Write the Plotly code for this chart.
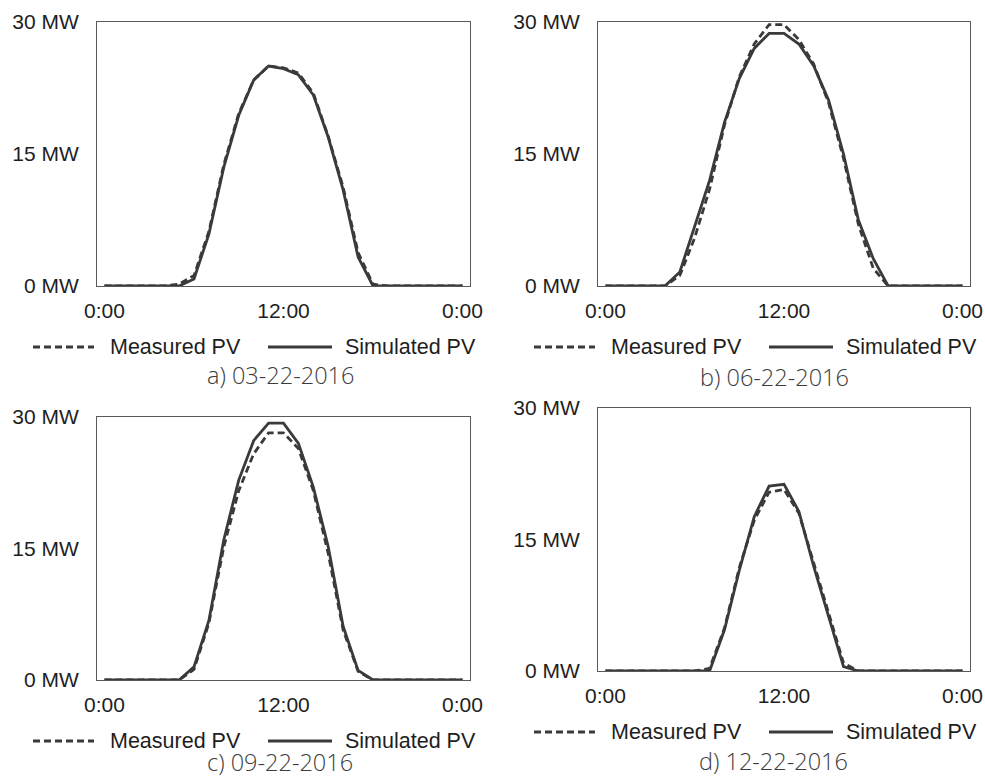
import plotly.graph_objects as go

W, H = 985, 779

hours = list(range(25))
x_tick_vals = [0, 12, 24]
x_tick_text = ["0:00", "12:00", "0:00"]
y_tick_vals = [0, 15, 30]
y_tick_text = ["0 MW", "15 MW", "30 MW"]

a_measured = [0, 0, 0, 0, 0, 0.2, 1.2, 6.2, 13.8, 19.6, 23.4, 25.0, 24.8, 24.2, 21.9, 17.0, 11.2, 3.8, 0.2, 0, 0, 0, 0, 0, 0]
a_simulated = [0, 0, 0, 0, 0, 0, 0.8, 5.9, 13.5, 19.4, 23.4, 25.0, 24.7, 24.0, 21.7, 16.9, 10.9, 3.3, 0, 0, 0, 0, 0, 0, 0]
b_measured = [0, 0, 0, 0, 0, 1.2, 5.5, 11.0, 18.3, 23.8, 27.5, 29.7, 29.7, 28.0, 25.2, 20.8, 14.5, 7.0, 2.0, 0, 0, 0, 0, 0, 0]
b_simulated = [0, 0, 0, 0, 0, 1.6, 6.7, 12.0, 18.6, 23.6, 27.0, 28.7, 28.7, 27.5, 25.0, 21.1, 15.0, 7.5, 3.1, 0, 0, 0, 0, 0, 0]
c_measured = [0, 0, 0, 0, 0, 0, 1.2, 6.5, 15.2, 21.6, 25.8, 28.2, 28.2, 26.4, 21.6, 14.4, 5.7, 1.0, 0, 0, 0, 0, 0, 0, 0]
c_simulated = [0, 0, 0, 0, 0, 0, 1.5, 6.8, 16.0, 22.8, 27.3, 29.3, 29.3, 27.0, 22.0, 15.2, 6.1, 1.1, 0, 0, 0, 0, 0, 0, 0]
d_measured = [0, 0, 0, 0, 0, 0, 0, 0.3, 4.9, 11.8, 17.2, 20.4, 20.7, 18.0, 12.3, 6.6, 0.9, 0, 0, 0, 0, 0, 0, 0, 0]
d_simulated = [0, 0, 0, 0, 0, 0, 0, 0, 4.7, 11.5, 17.6, 21.1, 21.3, 18.2, 11.9, 6.2, 0.5, 0, 0, 0, 0, 0, 0, 0, 0]

captions = ["a) 03-22-2016", "b) 06-22-2016", "c) 09-22-2016", "d) 12-22-2016"]
series_names = ["Measured PV", "Simulated PV"]

LINE = "#3a3a3a"
FRAME = "#5a5a5a"
TEXT = "#1e1e1e"
FONT = "Liberation Sans, Arial, sans-serif"
DASH = "7px,4px"
LW = 2.8

# panel boxes in pixels: (left, right, top, bottom)
boxes = [(97, 470, 22, 286), (598, 970, 22, 286), (97, 470, 417, 680), (598, 970, 408, 671)]
legend_y = [347, 347, 741, 732]
caption_y = [375, 377, 762, 761]
caption_x = [280, 774, 280, 773]

data = [(a_measured, a_simulated), (b_measured, b_simulated),
        (c_measured, c_simulated), (d_measured, d_simulated)]

fig = go.Figure()
layout = dict(width=W, height=H, margin=dict(l=0, r=0, t=0, b=0, autoexpand=False),
              paper_bgcolor="white", plot_bgcolor="white", showlegend=False,
              template="none")
shapes = []
annotations = []

def px(x):
    return x / W

def py(y):
    return 1 - y / H

for i, (meas, sim) in enumerate(data):
    n = i + 1
    xa = "x" if n == 1 else f"x{n}"
    ya = "y" if n == 1 else f"y{n}"
    l, r, t, b = boxes[i]
    fig.add_trace(go.Scatter(x=hours, y=meas, mode="lines", name=series_names[0],
                             line=dict(color=LINE, width=LW, dash=DASH),
                             xaxis=xa, yaxis=ya))
    fig.add_trace(go.Scatter(x=hours, y=sim, mode="lines", name=series_names[1],
                             line=dict(color=LINE, width=LW),
                             xaxis=xa, yaxis=ya))
    xkey = "xaxis" if n == 1 else f"xaxis{n}"
    ykey = "yaxis" if n == 1 else f"yaxis{n}"
    layout[xkey] = dict(domain=[px(l), px(r)], range=[-0.5, 24.5], anchor=ya,
                        automargin=False,
                        tickvals=x_tick_vals, ticktext=x_tick_text,
                        showgrid=False, zeroline=False, showline=True, mirror=True,
                        linecolor=FRAME, linewidth=1, ticks="outside", ticklen=6,
                        tickcolor="rgba(0,0,0,0)",
                        tickfont=dict(family=FONT, size=21, color=TEXT))
    layout[ykey] = dict(domain=[py(b), py(t)], range=[0, 30], anchor=xa,
                        automargin=False,
                        tickvals=y_tick_vals, ticktext=y_tick_text,
                        showgrid=False, zeroline=False, showline=True, mirror=True,
                        linecolor=FRAME, linewidth=1, ticks="outside", ticklen=13,
                        tickcolor="rgba(0,0,0,0)",
                        tickfont=dict(family=FONT, size=21, color=TEXT))
    # legend keys
    off = 0 if i in (0, 2) else 501
    ly = py(legend_y[i])
    shapes.append(dict(type="line", xref="paper", yref="paper",
                       x0=px(33 + off), x1=px(94 + off), y0=ly, y1=ly,
                       line=dict(color=LINE, width=LW, dash=DASH)))
    shapes.append(dict(type="line", xref="paper", yref="paper",
                       x0=px(268 + off), x1=px(332 + off), y0=ly, y1=ly,
                       line=dict(color=LINE, width=LW)))
    annotations.append(dict(x=px(108 + off), y=ly, xref="paper", yref="paper",
                            text=series_names[0], showarrow=False, xanchor="left",
                            yanchor="middle",
                            font=dict(family=FONT, size=21.5, color=TEXT)))
    annotations.append(dict(x=px(343 + off), y=ly, xref="paper", yref="paper",
                            text=series_names[1], showarrow=False, xanchor="left",
                            yanchor="middle",
                            font=dict(family=FONT, size=21.5, color=TEXT)))
    annotations.append(dict(x=px(caption_x[i]), y=py(caption_y[i]), xref="paper", yref="paper",
                            text=captions[i], showarrow=False, xanchor="center",
                            yanchor="middle", borderpad=0,
                            font=dict(family="Open Sans, sans-serif", size=23.5,
                                      color="#3c3c3c", weight=300)))

layout["shapes"] = shapes
layout["annotations"] = annotations
fig.update_layout(**layout)
fig.write_html("out.html", config={"displayModeBar": False},
               post_script="document.body.style.margin='0px';document.body.style.overflow='hidden';")
